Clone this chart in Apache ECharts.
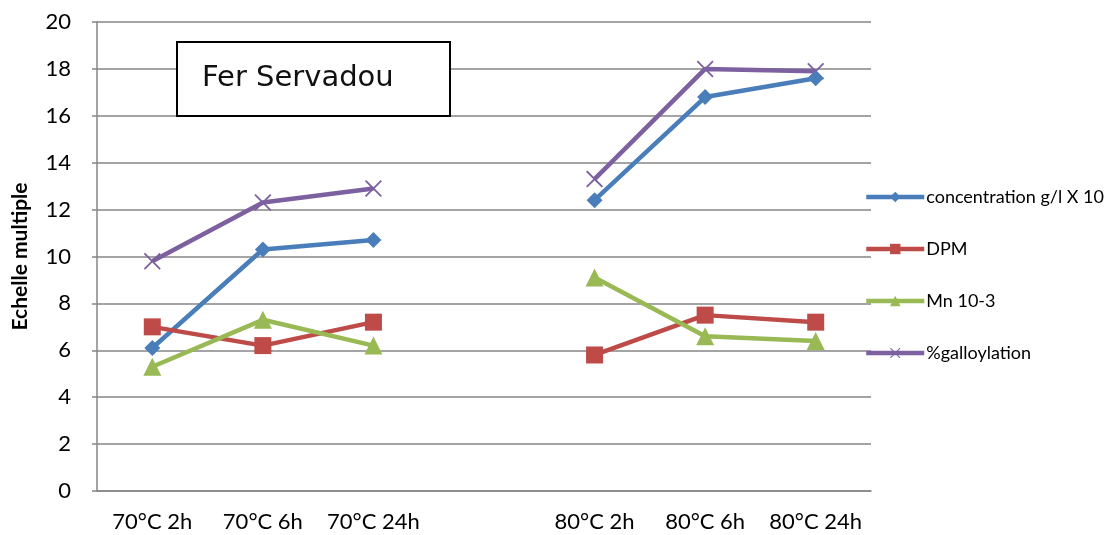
<!DOCTYPE html>
<html><head><meta charset="utf-8">
<script src="https://cdn.jsdelivr.net/npm/echarts@6/dist/echarts.min.js"></script>
<style>html,body{margin:0;padding:0;background:#fff}#c{width:1118px;height:535px}</style>
</head><body><div id="c"></div>
<script>
const categories = ['70°C 2h','70°C 6h','70°C 24h','','80°C 2h','80°C 6h','80°C 24h'];
const concentration = [6.1,10.3,10.7,null,12.4,16.8,17.6];
const dpm = [7.0,6.2,7.2,null,5.8,7.5,7.2];
const mn = [5.3,7.3,6.2,null,9.1,6.6,6.4];
const galloylation = [9.8,12.3,12.9,null,13.3,18.0,17.9];
const seriesNames = ['concentration g/l X 10','DPM','Mn 10-3','%galloylation'];
const yTicks = {min:0,max:20,interval:2};

const FONT = 'Lato';
const crossPath = 'path://M0,1.5 L1.5,0 L10,8.5 L18.5,0 L20,1.5 L11.5,10 L20,18.5 L18.5,20 L10,11.5 L1.5,20 L0,18.5 L8.5,10 Z';
const colors = ['#4A7EBB','#BE4B48','#98B954','#7D60A0'];
const symbols = ['diamond','rect','triangle',crossPath];
const sizes = [16,17,18,17];
const dataSets = [concentration,dpm,mn,galloylation];

const chart = echarts.init(document.getElementById('c'));
chart.setOption({
  animation:false,
  backgroundColor:'#fff',
  grid:{left:97,right:247,top:22,bottom:44,containLabel:false},
  legend:{
    orient:'vertical',left:859,top:183,itemGap:34,itemWidth:58,itemHeight:13,
    textStyle:{fontFamily:FONT,fontSize:18,color:'#000',padding:[0,0,0,-3]},
    lineStyle:{width:4.5},
    data:seriesNames
  },
  xAxis:{
    type:'category',data:categories,boundaryGap:true,
    axisLine:{lineStyle:{color:'#868686',width:1.5}},
    axisTick:{show:false},
    axisLabel:{fontFamily:FONT,fontSize:22,color:'#000',margin:20,interval:0}
  },
  yAxis:{
    type:'value',min:yTicks.min,max:yTicks.max,interval:yTicks.interval,
    name:'Echelle multiple',nameLocation:'middle',nameGap:66,
    nameTextStyle:{fontFamily:FONT,fontSize:21,fontWeight:'bold',color:'#000'},
    axisLine:{show:true,lineStyle:{color:'#868686',width:1.5}},
    axisTick:{show:true,length:5,lineStyle:{color:'#868686',width:1.5}},
    axisLabel:{fontFamily:FONT,fontSize:22,color:'#000',margin:26},
    splitLine:{lineStyle:{color:'#868686',width:1.5}}
  },
  graphic:[
    {type:'rect',shape:{x:177,y:42,width:273,height:74},style:{fill:'#fff',stroke:'#000',lineWidth:2},z:100},
    {type:'text',x:202,y:78,style:{text:'Fer Servadou',font:'29px "DejaVu Sans"',fill:'#111',textVerticalAlign:'middle'},z:101}
  ],
  series:seriesNames.map((n,i)=>({
    name:n,type:'line',data:dataSets[i],connectNulls:false,
    symbol:symbols[i],symbolSize:sizes[i],
    lineStyle:{color:colors[i],width:4.5},
    itemStyle:{color:colors[i]},
    z:[3,4,5,2][i]
  }))
});
</script></body></html>
